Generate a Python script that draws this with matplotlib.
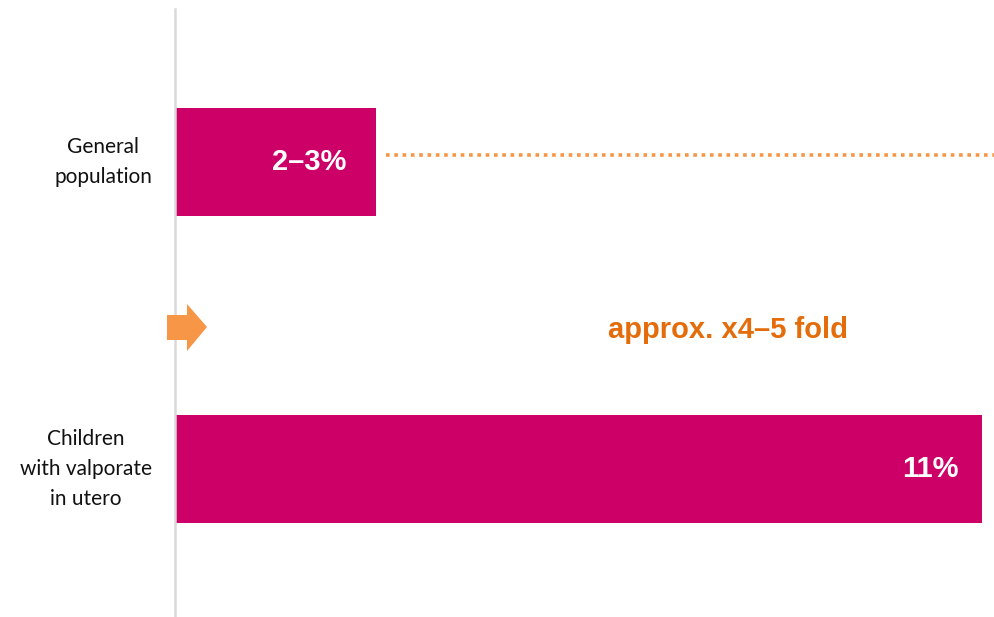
import matplotlib
matplotlib.use("Agg")
import matplotlib.pyplot as plt
from matplotlib.patches import Polygon

categories = ["General\npopulation", "Children\nwith valporate\nin utero"]
values = [2.74, 11.0]
value_labels = ["2–3%", "11%"]
annotation = "approx. x4–5 fold"

BAR = "#CC0066"
ORANGE_LIGHT = "#F79646"
ORANGE_TEXT = "#E46C0A"

W, H = 995, 617
fig = plt.figure(figsize=(W / 100, H / 100), dpi=100)
ax = fig.add_axes([175 / W, 1 - 617 / H, (W - 175) / W, (617 - 9) / H])

y = list(range(len(categories)))
ax.barh(y, values, height=0.352, color=BAR, zorder=2)
ax.set_xlim(0, (W - 175) / ((982 - 175) / 11.0))
ax.set_ylim(1.482, -0.498)

ax.set_yticks(y)
ax.set_yticklabels(categories, fontsize=15, family="Lato", color="#111111",
                   ha="right", va="center", multialignment="center", linespacing=1.65)
ax.tick_params(axis="y", length=0, pad=16.5)
ax.set_xticks([])
for s in ["top", "right", "bottom"]:
    ax.spines[s].set_visible(False)
ax.spines["left"].set_color("#D9D9D9")
ax.spines["left"].set_linewidth(1.8)

offsets = [-21, -17]
for yi, v, lab, off in zip(y, values, value_labels, offsets):
    ax.annotate(lab, (v, yi), xytext=(off, 0), textcoords="offset points",
                ha="right", va="center", color="white", fontsize=21,
                fontweight="bold", family="Liberation Sans", zorder=3)

# dotted line from the general population bar to the right edge
ax.plot([values[0] + 0.13, ax.get_xlim()[1]], [y[0] - 0.022, y[0] - 0.022],
        color=ORANGE_LIGHT, lw=2.6, linestyle=(0, (1.0, 1.3)),
        dash_capstyle="butt", clip_on=False, zorder=1)

ax.text(7.54, 0.547, annotation, ha="center", va="center", color=ORANGE_TEXT,
        fontsize=21, fontweight="bold", family="Liberation Sans")

# arrow shape (figure pixel coords)
pts = [(167, 315), (187, 315), (187, 304), (207, 327), (187, 351), (187, 340), (167, 340)]
arrow = Polygon([(px / W, 1 - py / H) for px, py in pts], closed=True,
                transform=fig.transFigure, facecolor=ORANGE_LIGHT, edgecolor="none",
                zorder=5)
fig.patches.append(arrow)

fig.savefig("out.png", dpi=100)
